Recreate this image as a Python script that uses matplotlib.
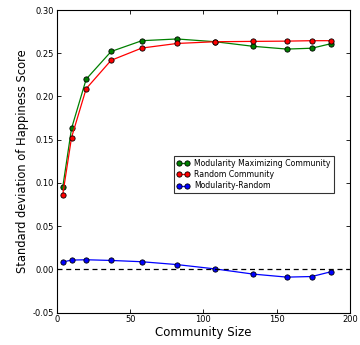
import matplotlib
matplotlib.use("Agg")
import matplotlib.pyplot as plt

community_size = [4, 10, 20, 37, 58, 82, 108, 134, 157, 174, 187]
modularity_std = [0.095, 0.163, 0.220, 0.252, 0.2645, 0.2665, 0.2633, 0.258, 0.2548, 0.2558, 0.261]
random_std = [0.0865, 0.1525, 0.209, 0.2418, 0.256, 0.2613, 0.2633, 0.2637, 0.264, 0.2645, 0.2645]
difference = [0.0085, 0.0107, 0.0111, 0.0103, 0.0088, 0.0055, 0.0005, -0.0055, -0.009, -0.0083, -0.0028]

fig = plt.figure(figsize=(3.6, 3.45), dpi=100)
ax = fig.add_axes([0.158, 0.094, 0.814, 0.877])

style = dict(marker="o", markersize=3.8, linewidth=0.9, markeredgecolor="black", markeredgewidth=0.6)
ax.plot(community_size, modularity_std, color="green", markerfacecolor="green",
        label="Modularity Maximizing Community", **style)
ax.plot(community_size, random_std, color="red", markerfacecolor="red",
        label="Random Community", **style)
ax.plot(community_size, difference, color="blue", markerfacecolor="blue",
        label="Modularity-Random", **style)
ax.axhline(0, color="black", linestyle="--", linewidth=0.9, dashes=(4, 3))

ax.set_xlim(0, 200)
ax.set_ylim(-0.05, 0.30)
ax.set_xticks([0, 50, 100, 150, 200])
ax.set_yticks([-0.05, 0.00, 0.05, 0.10, 0.15, 0.20, 0.25, 0.30])
ax.yaxis.set_major_formatter(matplotlib.ticker.FormatStrFormatter("%.2f"))
ax.tick_params(direction="in", top=True, right=True, labelsize=6, length=3, width=0.6, pad=2)
for s in ax.spines.values():
    s.set_linewidth(0.8)

ax.set_xlabel("Community Size", fontsize=8.5, labelpad=1)
ax.set_ylabel("Standard deviation of Happiness Score", fontsize=8.3, labelpad=3)

leg = ax.legend(loc="upper left", bbox_to_anchor=(0.399, 0.519), fontsize=5.6, numpoints=2,
                frameon=True, fancybox=False, borderpad=0.4, labelspacing=0.3,
                handlelength=1.6, handletextpad=0.6, borderaxespad=0)
leg.get_frame().set_edgecolor("black")
leg.get_frame().set_linewidth(0.8)

fig.savefig("out.png", dpi=100)
